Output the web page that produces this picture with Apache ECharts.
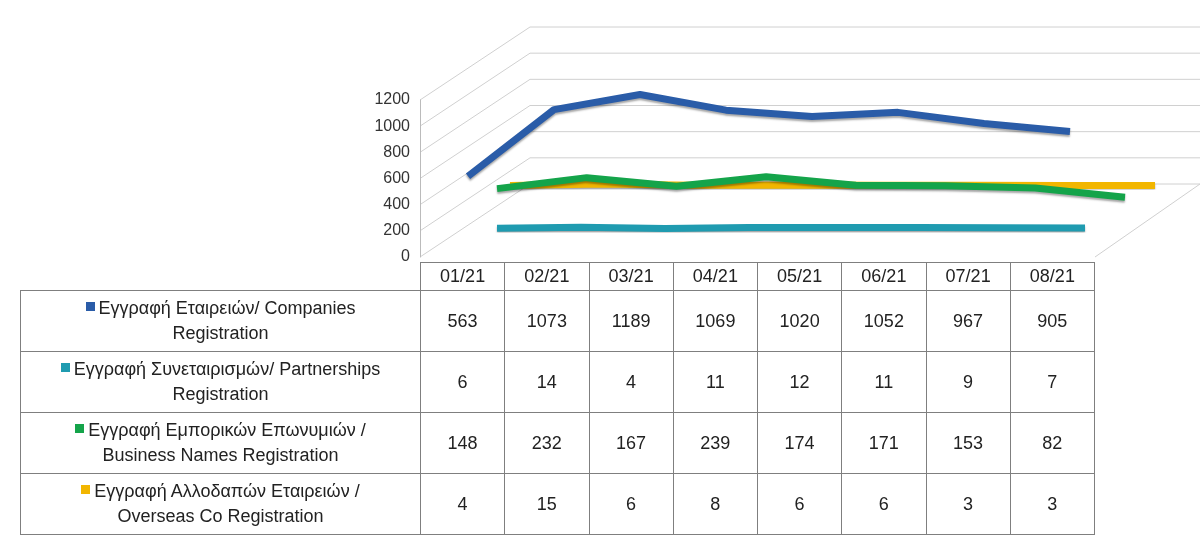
<!DOCTYPE html>
<html>
<head>
<meta charset="utf-8">
<script src="https://cdn.jsdelivr.net/npm/echarts@6/dist/echarts.min.js"></script>
<style>
  body { margin: 0; background: #fff; font-family: "Liberation Sans", "Noto Sans", sans-serif; }
  #main { position: absolute; left: 0; top: 0; width: 1200px; height: 536px; }
  table { position: absolute; border-collapse: collapse; table-layout: fixed; width: 1075px; font-size: 18px; color: #222; }
  td { border: 1px solid #7f7f7f; text-align: center; padding: 0; }
  td.lab { text-align: center; line-height: 25px; }
  .mk { display: inline-block; width: 9px; height: 9px; margin-right: 4px; vertical-align: 3px; }
</style>
</head>
<body>
<div id="main"></div>
<table id="tbl"></table>
<script>
// 数据
const categories = ['01/21', '02/21', '03/21', '04/21', '05/21', '06/21', '07/21', '08/21'];
const companies = [563, 1073, 1189, 1069, 1020, 1052, 967, 905];
const partnerships = [6, 14, 4, 11, 12, 11, 9, 7];
const businessNames = [148, 232, 167, 239, 174, 171, 153, 82];
const overseas = [4, 15, 6, 8, 6, 6, 3, 3];
const yTicks = [0, 200, 400, 600, 800, 1000, 1200];

const seriesInfo = [
  { name: 'Εγγραφή Εταιρειών/ Companies', name2: 'Registration', data: companies, color: '#2a5ca8' },
  { name: 'Εγγραφή Συνεταιρισμών/ Partnerships', name2: 'Registration', data: partnerships, color: '#1f9bb0' },
  { name: 'Εγγραφή Εμπορικών Επωνυμιών /', name2: 'Business Names Registration', data: businessNames, color: '#14a44a' },
  { name: 'Εγγραφή Αλλοδαπών Εταιρειών /', name2: 'Overseas Co Registration', data: overseas, color: '#f2b600' }
];

// 每个系列的伪3D深度位置 [left, right, zero-y]
const depth = [
  [468, 130, 250],
  [497, 115, 229],
  [497, 75, 208],
  [510, 45, 186]
];
const drawOrder = [0, 3, 2, 1];
const H = 157;

const myChart = echarts.init(document.getElementById('main'));
const grids = [{ left: 420, width: 675, top: 100, height: H, show: false }];
const xAxes = [{ gridIndex: 0, type: 'category', data: categories, show: false }];
const yAxes = [{
  gridIndex: 0, type: 'value', min: 0, max: 1200, interval: 200,
  axisLabel: { color: '#333', fontSize: 16, margin: 10, formatter: v => String(v) },
  axisLine: { show: true, lineStyle: { color: '#bbb' } },
  splitLine: { show: false }
}];
const series = [];
drawOrder.forEach((si, k) => {
  const d = depth[si];
  grids.push({ left: d[0], right: d[1], top: d[2] - H, height: H, show: false });
  xAxes.push({ gridIndex: k + 1, type: 'category', data: categories, boundaryGap: false, show: false });
  yAxes.push({ gridIndex: k + 1, type: 'value', min: 0, max: 1200, show: false });
  series.push({
    type: 'line', xAxisIndex: k + 1, yAxisIndex: k + 1,
    data: seriesInfo[si].data, symbol: 'none',
    lineStyle: { width: 7, color: seriesInfo[si].color, shadowColor: 'rgba(0,0,0,0.35)', shadowOffsetY: 2, shadowBlur: 2 }
  });
});

// 背景墙网格线
const wall = [];
yTicks.forEach(v => {
  const y = 257 - v / 1200 * H;
  wall.push({ type: 'polyline', shape: { points: [[420, y], [530, y - 73], [1200, y - 73]] }, style: { stroke: '#d0d0d0', lineWidth: 1, fill: null }, z: -1 });
});
wall.push({ type: 'polyline', shape: { points: [[1095, 257], [1200, 184]] }, style: { stroke: '#d0d0d0', lineWidth: 1, fill: null }, z: -1 });

myChart.setOption({
  animation: false,
  grid: grids, xAxis: xAxes, yAxis: yAxes, series: series,
  graphic: wall
});

// 数据表
const tbl = document.getElementById('tbl');
tbl.style.left = '20px';
tbl.style.top = '262px';
let html = '<colgroup><col style="width:400px">' + categories.map(() => '<col>').join('') + '</colgroup>';
html += '<tr style="height:28px"><td style="border:none;border-bottom:1px solid #7f7f7f"></td>';
categories.forEach(c => { html += '<td>' + c + '</td>'; });
html += '</tr>';
seriesInfo.forEach(s => {
  html += '<tr style="height:61px"><td class="lab"><span class="mk" style="background:' + s.color + '"></span>' + s.name + '<br>' + s.name2 + '</td>';
  s.data.forEach(v => { html += '<td>' + v + '</td>'; });
  html += '</tr>';
});
tbl.innerHTML = html;
</script>
</body>
</html>
